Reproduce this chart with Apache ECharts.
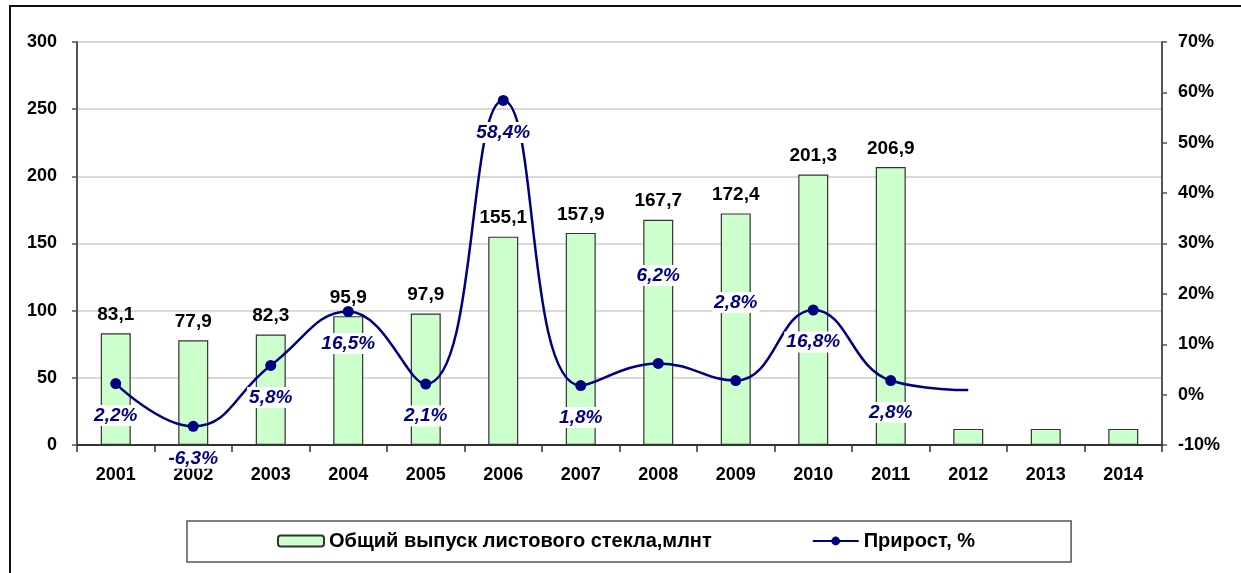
<!DOCTYPE html>
<html>
<head>
<meta charset="utf-8">
<script src="https://cdn.jsdelivr.net/npm/echarts@6/dist/echarts.min.js"></script>
<style>
html,body{margin:0;padding:0;background:#fff;}
#chart{width:1241px;height:573px;}
</style>
</head>
<body>
<div id="chart"></div>
<script>
const years = ['2001','2002','2003','2004','2005','2006','2007','2008','2009','2010','2011','2012','2013','2014'];
const output = [83.1, 77.9, 82.3, 95.9, 97.9, 155.1, 157.9, 167.7, 172.4, 201.3, 206.9, 12, 12, 12];
const growth = [2.2, -6.3, 5.8, 16.5, 2.1, 58.4, 1.8, 6.2, 2.8, 16.8, 2.8, 0.9, null, null];
const labeledCount = 11;
const barName = 'Общий выпуск листового стекла,млнт';
const lineName = 'Прирост, %';

// layout for growth labels (style only)
const labelAbove = { 7: 72, 8: 62 };

const FONT = '"Liberation Sans", Arial, sans-serif';
const fmt = v => v.toFixed(1).replace('.', ',');

const barData = output.map((v, i) => ({
  value: v,
  label: { show: i < labeledCount }
}));

const lineData = growth.map((v, i) => {
  if (v === null) return null;
  if (i >= labeledCount) return { value: v, symbol: 'none', label: { show: false } };
  const item = { value: v };
  if (labelAbove[i] !== undefined) {
    item.label = { position: 'top', distance: labelAbove[i] };
  }
  return item;
});

const chart = echarts.init(document.getElementById('chart'), null, { renderer: 'canvas' });
chart.setOption({
  animation: false,
  backgroundColor: '#fff',
  textStyle: { fontFamily: FONT },
  graphic: [{
    type: 'rect',
    shape: { x: 10, y: 6, width: 1240, height: 600 },
    style: { fill: 'none', stroke: '#111', lineWidth: 2 },
    z: 100
  }],
  grid: { left: 77, right: 79, top: 42, bottom: 128, containLabel: false },
  legend: {
    left: 187, top: 521,
    padding: [10, 96, 11, 90],
    borderColor: '#555', borderWidth: 1.5,
    itemWidth: 46, itemHeight: 11, itemGap: 100,
    textStyle: { fontFamily: FONT, fontWeight: 'bold', fontSize: 20, color: '#000' },
    data: [barName, lineName]
  },
  xAxis: {
    type: 'category',
    data: years,
    axisLine: { lineStyle: { color: '#333', width: 2 } },
    axisTick: { show: true, length: 7, lineStyle: { color: '#333', width: 1.5 } },
    axisLabel: { color: '#000', fontWeight: 'bold', fontSize: 18, margin: 21, fontFamily: FONT }
  },
  yAxis: [{
    type: 'value', min: 0, max: 300, interval: 50,
    axisLine: { show: true, lineStyle: { color: '#555', width: 2 } },
    axisTick: { show: true, length: 5, lineStyle: { color: '#555', width: 1.5 } },
    axisLabel: { color: '#000', fontWeight: 'bold', fontSize: 18, margin: 20, fontFamily: FONT },
    splitLine: { show: true, lineStyle: { color: '#cccccc', width: 1.5 } }
  }, {
    type: 'value', min: -10, max: 70, interval: 10,
    position: 'right',
    axisLine: { show: true, lineStyle: { color: '#555', width: 2 } },
    axisTick: { show: true, length: 5, lineStyle: { color: '#555', width: 1.5 } },
    axisLabel: { color: '#000', fontWeight: 'bold', fontSize: 18, margin: 16, fontFamily: FONT, formatter: '{value}%' },
    splitLine: { show: false }
  }],
  series: [{
    name: barName,
    type: 'bar',
    yAxisIndex: 0,
    barWidth: 30,
    data: barData,
    itemStyle: { color: '#ccffcc', borderColor: '#333', borderWidth: 1.2 },
    label: {
      show: true, position: 'top', distance: 9,
      color: '#000', fontWeight: 'bold', fontSize: 19, fontFamily: FONT,
      formatter: p => fmt(p.value)
    },
    z: 2
  }, {
    name: lineName,
    type: 'line',
    yAxisIndex: 1,
    smooth: 0.45,
    data: lineData,
    symbol: 'circle',
    symbolSize: 11,
    lineStyle: { color: '#000080', width: 2.5 },
    itemStyle: { color: '#000080' },
    label: {
      show: true, position: 'bottom', distance: 16,
      color: '#000080', fontWeight: 'bold', fontStyle: 'italic', fontSize: 19, fontFamily: FONT,
      backgroundColor: '#fff', padding: [1, 2],
      formatter: p => fmt(p.value) + '%'
    },
    z: 5
  }]
});
</script>
</body>
</html>
